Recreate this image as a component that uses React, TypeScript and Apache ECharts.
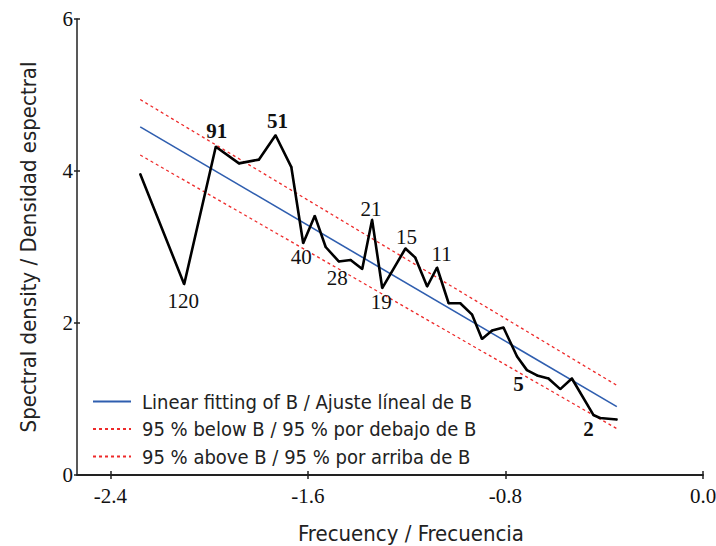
import React, { useEffect, useRef } from "react";
import * as echarts from "echarts";

// Spectral density vs frequency (black line)
const freq = [
  -2.279, -2.101, -1.973, -1.879, -1.798, -1.731, -1.667, -1.619, -1.572, -1.528,
  -1.475, -1.427, -1.38, -1.34, -1.299, -1.205, -1.165, -1.117, -1.077, -1.03,
  -0.983, -0.935, -0.895, -0.854, -0.808, -0.753, -0.713, -0.672, -0.626, -0.578,
  -0.531, -0.444, -0.417, -0.349,
];
const density = [
  3.96, 2.51, 4.32, 4.1, 4.15, 4.47, 4.05, 3.05, 3.41, 3.0,
  2.81, 2.83, 2.71, 3.36, 2.46, 2.98, 2.86, 2.48, 2.73, 2.26,
  2.26, 2.11, 1.79, 1.9, 1.94, 1.56, 1.38, 1.31, 1.27, 1.13,
  1.27, 0.79, 0.75, 0.73,
];
// period labels attached to points (empty = no label)
const pointLabels = [
  "", "120", "91", "", "", "51", "", "40", "", "",
  "28", "", "", "21", "19", "15", "", "", "11", "",
  "", "", "", "", "", "", "5", "", "", "",
  "", "", "2", "",
];

// Linear fit and 95 % band (end points)
const fitX = [-2.279, -0.349];
const fitY = [4.58, 0.9];
const upperY = [4.94, 1.18];
const lowerY = [4.21, 0.61];

const xTicks = [-2.4, -1.6, -0.8, 0];

const legendNames = [
  "Linear fitting of B / Ajuste líneal de B",
  "95 % below B / 95 % por debajo de B",
  "95 % above B / 95 % por arriba de B",
];
const xTitle = "Frecuency / Frecuencia";
const yTitle = "Spectral density / Densidad espectral";

// label placement (style only): pixel offset of the label centre from its point
const labelStyle: Record<string, { dx: number; dy: number; bold?: boolean }> = {
  "120": { dx: -1, dy: 17 },
  "91": { dx: 1, dy: -16, bold: true },
  "51": { dx: 2, dy: -14, bold: true },
  "40": { dx: -2, dy: 14 },
  "28": { dx: -1.5, dy: 17 },
  "21": { dx: -1, dy: -11 },
  "19": { dx: -1, dy: 14 },
  "15": { dx: 1, dy: -12 },
  "11": { dx: 4.5, dy: -13.5 },
  "5": { dx: -8.5, dy: 13.5, bold: true },
  "2": { dx: -11.5, dy: 11, bold: true },
};

const SERIF = "Liberation Serif, serif";
const NARROW = "DejaVu Sans Condensed, sans-serif";
const SYM = 2;

export default function App() {
  const ref = useRef<HTMLDivElement>(null);
  useEffect(() => {
    if (!ref.current) return;
    const chart = echarts.init(ref.current, undefined, { renderer: "svg" });

    const mainData = freq.map((x, i) => {
      const lab = pointLabels[i];
      if (!lab) return { value: [x, density[i]] };
      const s = labelStyle[lab];
      return {
        value: [x, density[i]],
        label: {
          show: true,
          formatter: lab,
          position: [SYM / 2 + s.dx, SYM / 2 + s.dy],
          align: "center",
          verticalAlign: "middle",
          fontFamily: SERIF,
          fontSize: 21,
          fontWeight: s.bold ? "bold" : "normal",
          color: "#111",
        },
      };
    });

    const xMin = -2.535;
    const yMax = 6;

    chart.setOption({
      animation: false,
      backgroundColor: "#fff",
      textStyle: { fontFamily: SERIF },
      grid: { left: 77, right: 13, top: 19, bottom: 71, containLabel: false, outerBoundsMode: "none" },
      legend: {
        orient: "vertical",
        left: 87,
        top: 386.5,
        data: legendNames,
        itemWidth: 38,
        itemHeight: 14,
        itemGap: 7.5,
        itemStyle: { opacity: 0 },
        textStyle: {
          fontFamily: NARROW,
          fontSize: 20,
          lineHeight: 20,
          color: "#222",
          padding: [0, 0, 0, 6],
        },
      },
      xAxis: [
        {
          type: "value",
          min: xMin,
          max: 0,
          splitLine: { show: false },
          axisLine: { show: true, onZero: false, lineStyle: { color: "#222", width: 2 } },
          axisTick: { show: true, customValues: xTicks, length: 4, lineStyle: { color: "#222", width: 1.5 } },
          axisLabel: {
            customValues: xTicks,
            formatter: (v: number) => v.toFixed(1),
            fontFamily: SERIF,
            fontSize: 21,
            color: "#111",
            margin: 10,
          },
          name: xTitle,
          nameLocation: "middle",
          nameGap: 47,
          nameTextStyle: { fontFamily: NARROW, fontSize: 22, color: "#222", padding: [0, 0, 0, 42] },
        },
        {
          type: "value",
          min: xMin,
          max: 0,
          position: "bottom",
          splitLine: { show: false },
          axisLine: { show: false, onZero: false },
          axisTick: { show: true, inside: true, customValues: xTicks, length: 4, lineStyle: { color: "#222", width: 1.5 } },
          axisLabel: { show: false },
        },
      ],
      yAxis: [
        {
          type: "value",
          min: 0,
          max: yMax,
          interval: 2,
          splitLine: { show: false },
          axisLine: { show: true, onZero: false, lineStyle: { color: "#222", width: 1.5 } },
          axisTick: { show: true, length: 3, lineStyle: { color: "#222", width: 1.5 } },
          axisLabel: { fontFamily: SERIF, fontSize: 21, color: "#111", margin: 4 },
          name: yTitle,
          nameLocation: "middle",
          nameGap: 38,
          nameTextStyle: { fontFamily: NARROW, fontSize: 22, color: "#222" },
        },
        {
          type: "value",
          min: 0,
          max: yMax,
          interval: 2,
          position: "left",
          splitLine: { show: false },
          axisLine: { show: false, onZero: false },
          axisTick: { show: true, inside: true, length: 3, lineStyle: { color: "#222", width: 1.5 } },
          axisLabel: { show: false },
        },
      ],
      series: [
        {
          name: "data",
          type: "line",
          data: mainData,
          symbol: "circle",
          symbolSize: SYM,
          showSymbol: true,
          itemStyle: { color: "#000" },
          z: 5,
          lineStyle: { color: "#000", width: 2.6 },
        },
        {
          name: legendNames[0],
          type: "line",
          data: fitX.map((x, i) => [x, fitY[i]]),
          symbol: "none",
          z: 3,
          lineStyle: { color: "#2f5eaf", width: 1.6 },
          itemStyle: { color: "#2f5eaf" },
        },
        {
          name: legendNames[1],
          type: "line",
          data: fitX.map((x, i) => [x, lowerY[i]]),
          symbol: "none",
          z: 3,
          lineStyle: { color: "#ee2a2a", width: 1.3, type: [3, 3] },
          itemStyle: { color: "#ee2a2a" },
        },
        {
          name: legendNames[2],
          type: "line",
          data: fitX.map((x, i) => [x, upperY[i]]),
          symbol: "none",
          z: 3,
          lineStyle: { color: "#ee2a2a", width: 1.3, type: [3, 3] },
          itemStyle: { color: "#ee2a2a" },
        },
      ],
    });
    return () => chart.dispose();
  }, []);
  return (
    <div
      ref={ref}
      style={{ position: "fixed", left: 0, top: 0, width: 716, height: 546, background: "#fff" }}
    />
  );
}
